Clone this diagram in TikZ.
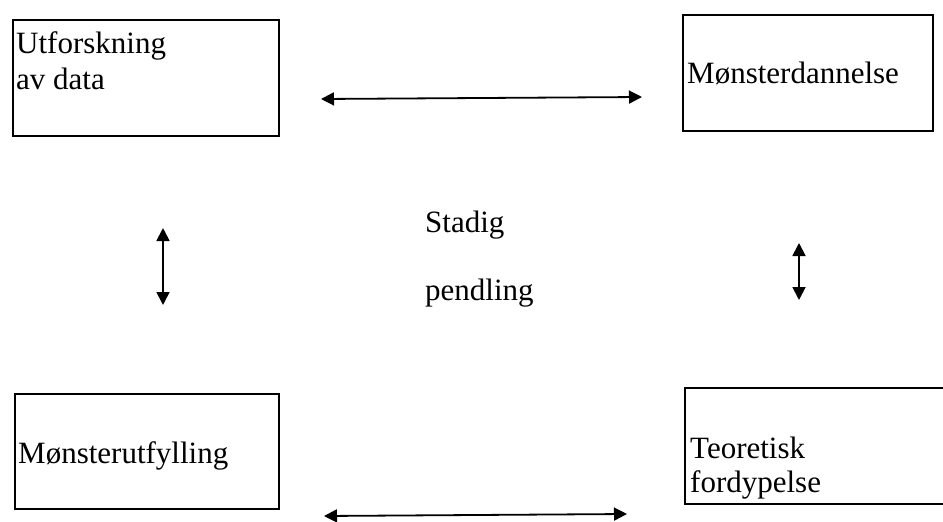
\documentclass[tikz,border=0pt]{standalone}
\usepackage{fontspec}
\setmainfont{Liberation Serif}
\usetikzlibrary{arrows.meta}
\begin{document}
\begin{tikzpicture}[x=1pt,y=-1pt,
  box/.style={draw,line width=1.8pt,inner sep=0pt,anchor=north west},
  lbl/.style={anchor=base west,inner sep=0pt,font=\fontsize{31}{36}\selectfont},
  link/.style={line width=1.8pt,{Triangle[length=13pt,width=13pt]}-{Triangle[length=13pt,width=13pt]}}]
\useasboundingbox (0,0) rectangle (943,522);
% boxes
\node[box,minimum width=266pt,minimum height=116pt] (tl) at (12,19) {};
\node[box,minimum width=250pt,minimum height=116pt] (tr) at (682,14) {};
\node[box,minimum width=264pt,minimum height=115pt] (bl) at (14,393) {};
\node[box,minimum width=270pt,minimum height=116pt] (br) at (684,387) {};
% labels
\node[lbl] (t1) at (16,53) {Utforskning};
\node[lbl] (t2) at (16,89) {av data};
\node[lbl] (t3) at (687,83) {Mønsterdannelse};
\node[lbl] (t4) at (18,463) {Mønsterutfylling};
\node[lbl] (t5) at (690,458) {Teoretisk};
\node[lbl] (t6) at (690,492) {fordypelse};
\node[lbl] (c1) at (425,232) {Stadig};
\node[lbl] (c2) at (425,300) {pendling};
% connector ends
\coordinate (a1) at (321,99);
\coordinate (a2) at (642,97);
\coordinate (b1) at (324,516);
\coordinate (b2) at (627,514);
\coordinate (l1) at (163,228);
\coordinate (l2) at (163,305);
\coordinate (r1) at (799,243);
\coordinate (r2) at (799,300);
\draw[link] (a1) -- (a2);
\draw[link] (b1) -- (b2);
\draw[link] (l1) -- (l2);
\draw[link] (r1) -- (r2);
\end{tikzpicture}
\end{document}
